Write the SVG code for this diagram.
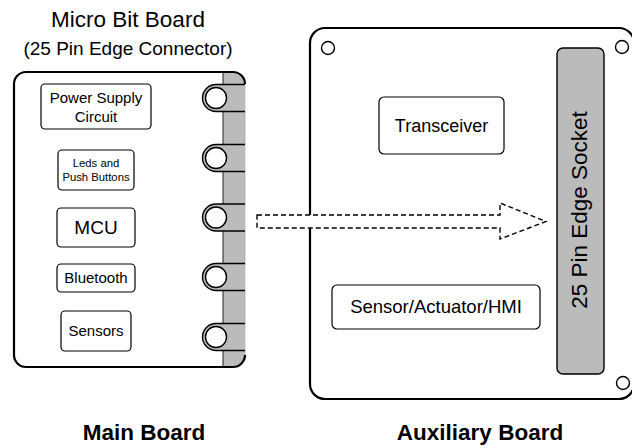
<svg xmlns="http://www.w3.org/2000/svg" width="632" height="448" viewBox="0 0 632 448">
<style>
text{font-family:"Liberation Sans",Arial,sans-serif;fill:#000}
.box{fill:#fff;stroke:#000;stroke-width:1.2}
.board{fill:#fff;stroke:#000;stroke-width:2.2}
.strip{fill:#bbbbbb;stroke:none}
.tab{fill:#bbbbbb;stroke:#000;stroke-width:1.4}
.hole{fill:#fff;stroke:#000;stroke-width:1.4}
.bold{font-weight:bold}
</style>
<rect width="632" height="448" fill="#fff"/>
<text x="128" y="27" font-size="22.5" text-anchor="middle">Micro Bit Board</text>
<text x="128" y="55" font-size="19" text-anchor="middle">(25 Pin Edge Connector)</text>

<g id="main-board">
  <rect x="14" y="72" width="231" height="295" rx="12" fill="#fff"/>
  <path class="strip" d="M223,72 H233 A12,12 0 0 1 245,84 V355 A12,12 0 0 1 233,367 H223 Z"/>
  <line x1="223" y1="72" x2="223" y2="367" stroke="#222" stroke-width="1"/>
  <line x1="245" y1="84" x2="245" y2="355" stroke="#999" stroke-width="0.6"/>
  <path fill="none" stroke="#000" stroke-width="2.2" d="M245,84 A12,12 0 0 0 233,72 H26 A12,12 0 0 0 14,84 V355 A12,12 0 0 0 26,367 H233 A12,12 0 0 0 245,355"/>
  <g id="pins">
    <path class="tab" d="M245,84.5 H216 A13.5,13.5 0 0 0 216,111.5 H245"/>
    <circle class="hole" cx="216" cy="98" r="10.5"/>
    <path class="tab" d="M245,144.5 H216 A13.5,13.5 0 0 0 216,171.5 H245"/>
    <circle class="hole" cx="216" cy="158" r="10.5"/>
    <path class="tab" d="M245,204 H216 A13.5,13.5 0 0 0 216,231 H245"/>
    <circle class="hole" cx="216" cy="217.5" r="10.5"/>
    <path class="tab" d="M245,263.5 H216 A13.5,13.5 0 0 0 216,290.5 H245"/>
    <circle class="hole" cx="216" cy="277" r="10.5"/>
    <path class="tab" d="M245,323.5 H216 A13.5,13.5 0 0 0 216,350.5 H245"/>
    <circle class="hole" cx="216" cy="337" r="10.5"/>
  </g>
</g>

<g id="power-supply">
  <rect class="box" x="41" y="84" width="110" height="45" rx="4"/>
  <text x="96" y="103" font-size="15" text-anchor="middle">Power Supply</text>
  <text x="96" y="122" font-size="15" text-anchor="middle">Circuit</text>
</g>
<g id="leds">
  <rect class="box" x="58" y="150" width="76" height="40" rx="4"/>
  <text x="96" y="167" font-size="11.3" text-anchor="middle">Leds and</text>
  <text x="96" y="181" font-size="11.3" text-anchor="middle">Push Buttons</text>
</g>
<g id="mcu">
  <rect class="box" x="57" y="208" width="78" height="39" rx="4"/>
  <text x="96" y="234" font-size="19" text-anchor="middle">MCU</text>
</g>
<g id="bluetooth">
  <rect class="box" x="57" y="264" width="78" height="28" rx="4"/>
  <text x="96" y="283" font-size="15" text-anchor="middle">Bluetooth</text>
</g>
<g id="sensors">
  <rect class="box" x="61" y="311" width="70" height="40" rx="4"/>
  <text x="96" y="336" font-size="15" text-anchor="middle">Sensors</text>
</g>

<g id="aux-board">
  <rect class="board" x="310" y="28" width="324" height="371" rx="15" stroke-width="2.6"/>
  <circle class="hole" cx="328" cy="48" r="6.5" stroke-width="1.1"/>
  <circle class="hole" cx="622" cy="47" r="6.5" stroke-width="1.1"/>
  <circle class="hole" cx="623" cy="383" r="6.5" stroke-width="1.1"/>
</g>
<g id="socket">
  <rect x="557" y="48" width="47" height="326" rx="6" fill="#bbbbbb" stroke="#000" stroke-width="1.4"/>
  <text transform="translate(587,210) rotate(-90)" font-size="22.5" text-anchor="middle">25 Pin Edge Socket</text>
</g>
<g id="transceiver">
  <rect class="box" x="379" y="97" width="125" height="57" rx="5"/>
  <text x="441.5" y="132" font-size="18" text-anchor="middle">Transceiver</text>
</g>
<g id="sensor-actuator">
  <rect class="box" x="332" y="285" width="208" height="44" rx="5"/>
  <text x="436" y="313" font-size="18.5" text-anchor="middle">Sensor/Actuator/HMI</text>
</g>

<g id="connectors">
  <path d="M257,215 H500 V203 L546,221.5 L500,239 V228 H257 Z" fill="#fff" stroke="#000" stroke-width="1.4" stroke-dasharray="5,3"/>
</g>

<text x="144" y="440" font-size="22.5" class="bold" text-anchor="middle">Main Board</text>
<text x="480" y="440" font-size="22.5" class="bold" text-anchor="middle">Auxiliary Board</text>
</svg>
